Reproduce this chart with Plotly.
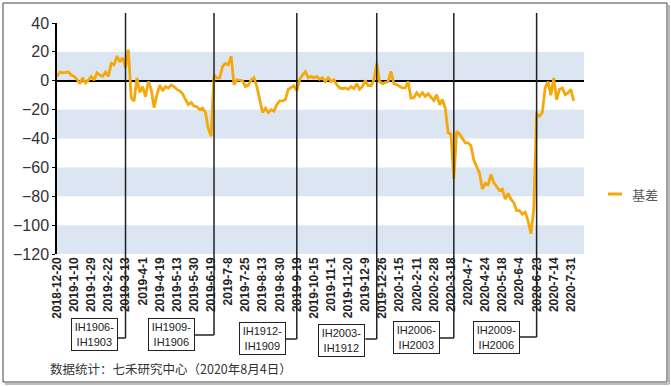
import plotly.graph_objects as go

# ---------------- data ----------------
tick_dates = [
    "2018-12-20", "2019-1-10", "2019-1-29", "2019-2-22", "2019-3-13", "2019-4-1",
    "2019-4-19", "2019-5-13", "2019-5-30", "2019-6-19", "2019-7-8", "2019-7-25",
    "2019-8-13", "2019-8-30", "2019-9-19", "2019-10-15", "2019-11-1", "2019-11-20",
    "2019-12-9", "2019-12-26", "2020-1-15", "2020-2-11", "2020-2-28", "2020-3-18",
    "2020-4-7", "2020-4-24", "2020-5-18", "2020-6-4", "2020-6-23", "2020-7-14",
    "2020-7-31",
]
points_per_tick = 6  # sampled observations between two labelled dates

basis = [
    3, 6, 5.5, 5.5, 6, 4, 3, 1, -2, 2,
    -1.5, 0.5, 3, 0.5, 5.5, 4, 3, 6, 3, 12,
    11, 17, 13, 16, 9, 21.5, -12, -14, 2, -8,
    -4, -11, -0.5, -6, -18.6, -9.7, -3, -7, -4, -5,
    -3, -4, -6, -7, -9, -13, -16.6, -15, -17.5, -18,
    -20, -19, -22, -33, -38.4, 4, 2, 2, 10, 12,
    11, 17, -2.8, 0.7, 0.2, 0, -4, -3, 0.5, 2,
    -4, -13, -22, -19, -22, -20, -21, -16.6, -14, -14,
    -13, -6, -4.5, -3.5, -7, 1, 4, 6.4, 2, 3,
    2, 3, 1, 2, -0.5, 2, -0.5, 0.7, -2.8, -5,
    -5.5, -5, -6, -4, -5.5, -2, -6, -4, 0.2, -3.4,
    -3.4, 0.7, 12, -0.5, -2, -1.5, -0.5, 6.4, -2, -2.8,
    -4, -5, -5, -0.5, -12, -11.7, -8.3, -10.8, -8.3, -10.8,
    -9, -11.3, -13.6, -9.7, -16.6, -13, -19, -36, -37, -68,
    -35, -37, -40, -43, -43, -45, -55, -60, -64, -75,
    -71, -72, -65, -70.6, -73, -76, -75, -82, -78, -82,
    -84.4, -90, -90, -92.4, -91, -97, -106, -89, -23.4, -24.6,
    -22, -5, -0.5, -10, 2, -13, -6, -5, -9.7, -8.5,
    -6, -14,
]

roll_index = [24, 55, 84, 112, 139, 168]
roll_labels = [
    "IH1906-<br>IH1903", "IH1909-<br>IH1906", "IH1912-<br>IH1909",
    "IH2003-<br>IH1912", "IH2006-<br>IH2003", "IH2009-<br>IH2006",
]
y_ticks = [40, 20, 0, -20, -40, -60, -80, -100, -120]
band_ranges = [(0, 20), (-40, -20), (-80, -60), (-120, -100)]

# ---------------- layout helpers ----------------
W, H = 671, 386
ML, MR, MT, MB = 57, 87, 23, 132
PW, PH = W - ML - MR, H - MT - MB


def px_x(px):
    return (px - ML) / PW


def px_y(py):
    return (H - MB - py) / PH


ORANGE = "#F5A80A"
FONT = "Liberation Sans, Arial, sans-serif"

x_vals = list(range(len(basis)))
tick_vals = [i * points_per_tick for i in range(len(tick_dates))]

fig = go.Figure()
fig.add_trace(go.Scatter(
    x=x_vals, y=basis, mode="lines", name="基差",
    line=dict(color=ORANGE, width=2.8), showlegend=False,
    hoverinfo="skip",
))

shapes = []
for lo, hi in band_ranges:
    shapes.append(dict(type="rect", xref="paper", yref="y", x0=0, x1=1, y0=lo, y1=hi,
                       fillcolor="#DCE6F2", line=dict(width=0), layer="below"))

# box geometry: (center offset from roll line in px, box center y px, connector y px)
box_geo = [(-31, 334.5, 338), (-42.5, 334.5, 335), (-34.3, 339, 339),
           (-34.8, 340, 339), (-37.3, 337, 338), (-40.1, 337, 337)]
BOX_W = 47
annotations = []
for k, lab, (off, cy, conn) in zip(roll_index, roll_labels, box_geo):
    shapes.append(dict(type="line", xref="x", yref="paper", x0=k, x1=k,
                       y0=px_y(conn), y1=px_y(13), line=dict(color="#222", width=1.5)))
    shapes.append(dict(type="line", xref="x", xsizemode="pixel", xanchor=k,
                       x0=off + BOX_W / 2, x1=0, yref="paper",
                       y0=px_y(conn), y1=px_y(conn), line=dict(color="#222", width=1.5)))
    annotations.append(dict(
        x=k, xref="x", xshift=off, y=px_y(cy), yref="paper",
        text=lab, showarrow=False, xanchor="center", yanchor="middle",
        bordercolor="#222", borderwidth=1, borderpad=2, bgcolor="white",
        width=BOX_W - 6, height=27, align="center",
        font=dict(size=11, color="#222", family=FONT),
    ))

# outer frame
shapes.append(dict(type="rect", xref="paper", yref="paper",
                   x0=px_x(3), x1=px_x(667), y0=px_y(382), y1=px_y(3),
                   line=dict(color="#444", width=1), fillcolor="rgba(0,0,0,0)"))
shapes.append(dict(type="line", xref="paper", yref="paper",
                   x0=px_x(669), x1=px_x(669), y0=px_y(384), y1=px_y(5),
                   line=dict(color="#bbb", width=2)))
shapes.append(dict(type="line", xref="paper", yref="paper",
                   x0=px_x(5), x1=px_x(669), y0=px_y(384), y1=px_y(384),
                   line=dict(color="#bbb", width=2)))

# legend (manual)
shapes.append(dict(type="line", xref="paper", yref="paper",
                   x0=px_x(608), x1=px_x(622), y0=px_y(194), y1=px_y(194),
                   line=dict(color=ORANGE, width=3)))
annotations.append(dict(x=px_x(630), y=px_y(194), xref="paper", yref="paper",
                        text="基差", showarrow=False, xanchor="left", yanchor="middle",
                        font=dict(size=13, color="#595959",
                                  family="Noto Sans CJK SC, sans-serif")))

# source note
annotations.append(dict(x=px_x(48), y=px_y(368), xref="paper", yref="paper",
                        text="数据统计：七禾研究中心（2020年8月4日）", showarrow=False,
                        xanchor="left", yanchor="middle",
                        font=dict(size=12.5, color="#333",
                                  family="Noto Sans CJK SC, sans-serif")))

fig.update_layout(
    width=W, height=H,
    margin=dict(l=ML, r=MR, t=MT, b=MB, pad=0),
    paper_bgcolor="white", plot_bgcolor="white",
    font=dict(family=FONT, color="#333"),
    shapes=shapes, annotations=annotations,
    showlegend=False,
    xaxis=dict(
        range=[0, 184.6], tickmode="array", tickvals=tick_vals, ticktext=tick_dates,
        tickangle=-90, tickfont=dict(size=12, color="#222", family=FONT, weight="bold"),
        showgrid=False, zeroline=False, showline=False, ticks="", automargin=False,
    ),
    yaxis=dict(
        range=[-120, 40], tickmode="array", tickvals=y_ticks,
        tickfont=dict(size=16, color="#333", family=FONT),
        showgrid=False, zeroline=True, zerolinecolor="#000", zerolinewidth=1.5,
        showline=True, linecolor="#000", linewidth=1.5,
        ticks="outside", ticklen=3, tickcolor="#000", automargin=False,
    ),
)

fig.write_html(
    "out.html",
    config={"displayModeBar": False},
    post_script="document.body.style.margin='0';document.body.style.overflow='hidden';",
)
